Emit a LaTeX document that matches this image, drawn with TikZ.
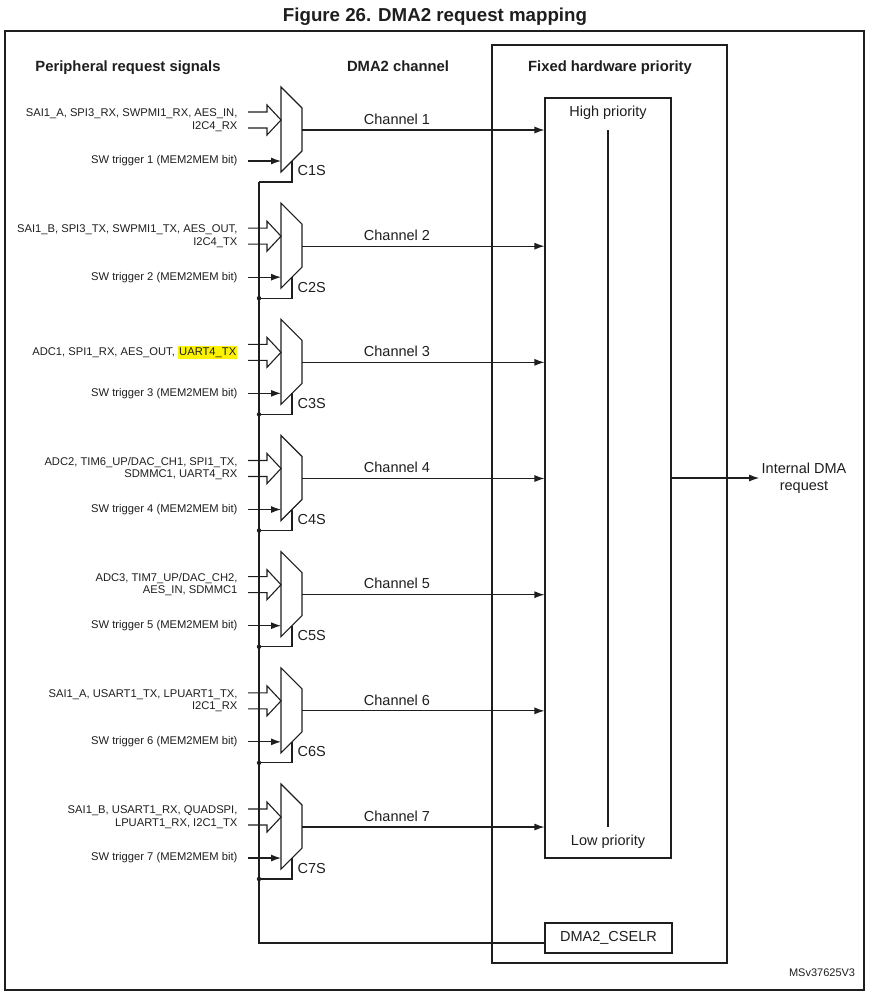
\documentclass[tikz,border=0pt]{standalone}
\usepackage{fontspec}
\setmainfont{Liberation Sans}
\usepackage{xcolor}
\usetikzlibrary{arrows.meta}
\definecolor{hlyel}{RGB}{255,242,0}
\definecolor{linec}{RGB}{30,30,30}
\newcommand{\hlmark}[1]{{\setlength{\fboxsep}{1.2pt}\colorbox{hlyel}{#1}}}

\begin{document}
\begin{tikzpicture}[x=1pt,y=-1pt,>={Latex[length=10pt,width=7pt]},color=linec,line width=1.1pt,
  sig/.style={font=\fontsize{11.2}{12.6}\selectfont,anchor=east,align=right,inner sep=0pt},
  lbl/.style={font=\fontsize{14.5}{16.5}\selectfont},
  hdr/.style={font=\fontsize{14.8}{17}\selectfont\bfseries,anchor=base}]
\useasboundingbox (0,0) rectangle (872,999);
% title and frame
\node[font=\fontsize{18.7}{22}\selectfont\bfseries] (title) at (435,17) {Figure 26. DMA2 request mapping};
\draw (5,31) rectangle (864,990);
% column headings
\node[hdr] (hperiph) at (128,71) {Peripheral request signals};
\node[hdr] (hchan) at (398,71) {DMA2 channel};
\node[hdr] (hprio) at (610,71) {Fixed hardware priority};
% priority block
\draw (492,45) rectangle (727,963);
\node[draw,minimum width=126pt,minimum height=760pt,inner sep=0pt] (prio) at (608,478) {};
\node[lbl] (hp) at (608,113) {High priority};
\node[lbl] (lp) at (608,842) {Low priority};
\coordinate (ptop) at (608,130);
\coordinate (pbot) at (608,827);
\draw (ptop) -- (pbot);
\node[draw,lbl,minimum width=127pt,minimum height=30pt,inner sep=0pt] (cselr) at (608.5,938) {DMA2\_CSELR};
\node[lbl,align=center,inner sep=2pt] (req) at (804,478) {Internal DMA\\request};
\draw[->] (prio.east) -- (prio.east -| req.west);
% channel multiplexers
\foreach \k/\sigtxt in {1/{SAI1\_A, SPI3\_RX, SWPMI1\_RX, AES\_IN,\\I2C4\_RX},
    2/{SAI1\_B, SPI3\_TX, SWPMI1\_TX, AES\_OUT,\\I2C4\_TX},
    3/{ADC1, SPI1\_RX, AES\_OUT, \hlmark{UART4\_TX}},
    4/{ADC2, TIM6\_UP/DAC\_CH1, SPI1\_TX,\\SDMMC1, UART4\_RX},
    5/{ADC3, TIM7\_UP/DAC\_CH2,\\AES\_IN, SDMMC1},
    6/{SAI1\_A, USART1\_TX, LPUART1\_TX,\\I2C1\_RX},
    7/{SAI1\_B, USART1\_RX, QUADSPI,\\LPUART1\_RX, I2C1\_TX}} {
  \pgfmathsetmacro{\yc}{130+116.17*(\k-1)}
  \draw (281,\yc-43) -- (302,\yc-22) -- (302,\yc+21) -- (281,\yc+42) -- cycle;
  \coordinate (out\k) at (302,\yc);
  \coordinate (sel\k) at (259,\yc+52);
  \node[sig] (periph\k) at (238,\yc-10) {\sigtxt};
  \node[sig] (sw\k) at (238,\yc+31) {SW trigger \k\ (MEM2MEM bit)};
  % bus input
  \draw (248,\yc-18) -- (267,\yc-18) -- (267,\yc-25) -- (281,\yc-10) -- (267,\yc+5) -- (267,\yc-2) -- (248,\yc-2);
  \draw[->] (248,\yc+31) -- (281,\yc+31);
  \draw (292,\yc+31) -- (292,\yc+52) -- (sel\k);
  \node[lbl,anchor=west,inner sep=0pt] (csel\k) at (297,\yc+41) {C\k S};
  \node[lbl] (ch\k) at (397,\yc-11) {Channel \k};
  \draw[->] (out\k) -- (out\k -| prio.west);
}
% select bus
\draw (sel1) -- (sel7) -- (259,943) -- ([yshift=-5pt]cselr.west);
\foreach \k in {2,...,7} \fill (sel\k) circle (2.2);
\node[font=\fontsize{11}{13}\selectfont,anchor=east] (msv) at (859,973) {MSv37625V3};
\end{tikzpicture}
\end{document}
